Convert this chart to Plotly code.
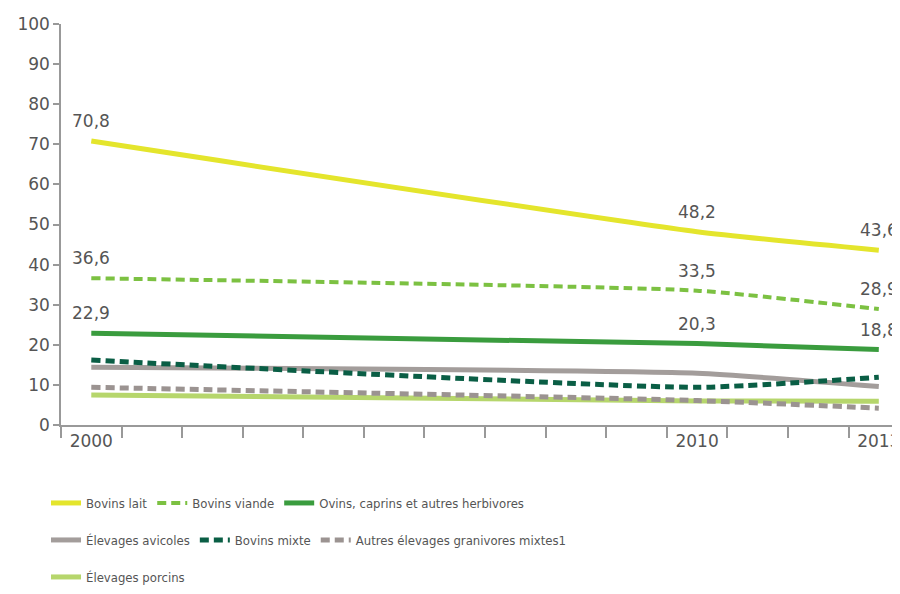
import plotly.graph_objects as go

# data
years = [2000, 2010, 2013]
bovins_lait = [70.8, 48.2, 43.6]
bovins_viande = [36.6, 33.5, 28.9]
ovins_caprins = [22.9, 20.3, 18.8]
avicoles = [14.4, 12.9, 9.6]
bovins_mixte = [16.2, 9.4, 11.9]
granivores = [9.4, 6.1, 4.2]
porcins = [7.5, 6.0, 5.9]

labelled = ['Bovins lait', 'Bovins viande', 'Ovins, caprins et autres herbivores']

# (name, values, colour, width, dash, legend, rank)
series = [
    ('Élevages porcins', porcins, '#b6d66c', 5, 'solid', 'legend3', 7),
    ('Autres élevages granivores mixtes1', granivores, '#9b9391', 5, '9px,5px', 'legend2', 6),
    ('Élevages avicoles', avicoles, '#a39d9b', 5, 'solid', 'legend2', 4),
    ('Bovins mixte', bovins_mixte, '#0a5e45', 5, '9px,5px', 'legend2', 5),
    ('Ovins, caprins et autres herbivores', ovins_caprins, '#3a9c3e', 5, 'solid', 'legend', 3),
    ('Bovins viande', bovins_viande, '#7cc142', 4, '9px,5px', 'legend', 2),
    ('Bovins lait', bovins_lait, '#e4e52c', 5, 'solid', 'legend', 1),
]

fig = go.Figure()

for name, vals, color, width, dash, leg, rank in series:
    fig.add_trace(go.Scatter(
        x=years,
        y=vals,
        name=name,
        mode='lines',
        line=dict(color=color, width=width, dash=dash, shape='spline', smoothing=0.5),
        legend=leg,
        legendrank=rank,
        hoverinfo='skip',
    ))
    # value labels above the three top series
    if name in labelled:
        for yr, v in zip(years, vals):
            fig.add_annotation(
                x=yr, y=v, text=f"{v:.1f}".replace('.', ','),
                showarrow=False, yshift=20, yanchor='middle',
                font=dict(size=17, color='#555555', family='DejaVu Sans, sans-serif'),
            )

# page has an 8px body margin, so the figure is 892x586
W, H = 892, 586

legend_font = dict(size=13, color='#555555',
                   family='DejaVu Sans Condensed, Liberation Sans Narrow, sans-serif')
legend_common = dict(orientation='h', xref='container', yref='container', x=38 / W,
                     xanchor='left', yanchor='top', font=legend_font, bgcolor='rgba(0,0,0,0)',
                     itemwidth=30, traceorder='normal')

fig.update_layout(
    width=W,
    height=H,
    paper_bgcolor='white',
    plot_bgcolor='white',
    margin=dict(l=53, r=0, t=16, b=169),
    font=dict(family='DejaVu Sans, sans-serif', color='#555555', size=17),
    showlegend=True,
    legend=dict(y=1 - 480 / H, **legend_common),
    legend2=dict(y=1 - 517 / H, **legend_common),
    legend3=dict(y=1 - 554 / H, **legend_common),
    xaxis=dict(
        range=[1999.5, 2013.35],
        tickvals=years,
        ticktext=[str(y) for y in years],
        ticks='',
        ticklabeloverflow='allow',
        automargin=False,
        showgrid=False,
        zeroline=False,
        showline=True,
        linecolor='#999999',
        linewidth=1.5,
        tickfont=dict(size=17, color='#555555'),
        minor=dict(ticks='outside', tickmode='linear', tick0=1999.5, dtick=1,
                   ticklen=11, tickcolor='#999999', tickwidth=1.5, showgrid=False),
    ),
    yaxis=dict(
        range=[0, 100],
        tickvals=list(range(0, 101, 10)),
        ticks='outside',
        ticklen=6,
        tickcolor='#999999',
        tickwidth=1.5,
        automargin=False,
        showgrid=False,
        zeroline=False,
        showline=True,
        linecolor='#999999',
        linewidth=1.5,
        tickfont=dict(size=17, color='#555555'),
    ),
)

fig.write_html("out.html")
